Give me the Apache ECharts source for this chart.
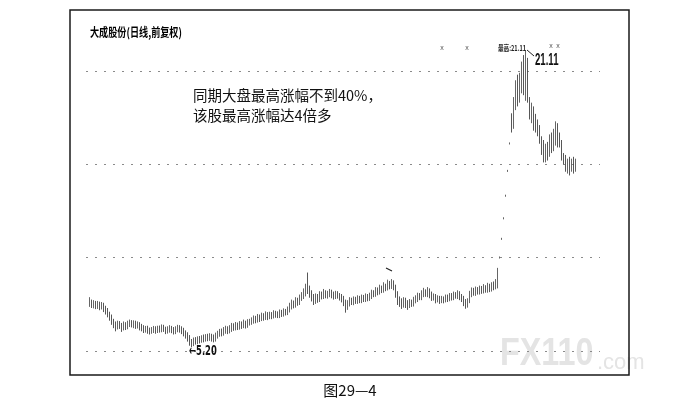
<!DOCTYPE html>
<html>
<head>
<meta charset="utf-8">
<script src="https://cdn.jsdelivr.net/npm/echarts@6.0.0/dist/echarts.min.js"></script>
<style>
html,body{margin:0;padding:0;background:#fff;}
#chart{width:681px;height:411px;}
</style>
</head>
<body>
<div id="chart"></div>
<script>
// ---- data (daily bars, 大成股份 前复权) ----
var opens = [
7.50,7.60,7.45,7.55,7.40,7.50,7.35,7.45,7.25,7.15,
6.95,6.80,6.55,6.45,6.30,6.45,6.35,6.25,6.40,6.30,
6.45,6.50,6.40,6.48,6.35,6.40,6.30,6.22,6.15,6.20,
6.10,6.05,6.12,6.18,6.10,6.20,6.15,6.25,6.18,6.08,
6.15,6.20,6.12,6.05,6.15,6.22,6.18,6.10,5.95,5.85,
5.70,5.45,5.40,5.55,5.50,5.60,5.58,5.65,5.62,5.70,
5.68,5.75,5.70,5.62,5.80,5.90,6.00,5.95,6.10,6.15,
6.08,6.20,6.30,6.25,6.35,6.28,6.40,6.35,6.45,6.38,
6.50,6.55,6.62,6.70,6.65,6.78,6.72,6.85,6.80,6.90,
6.82,6.92,6.88,7.00,6.95,6.90,7.05,6.98,7.10,7.05,
7.20,7.40,7.55,7.45,7.70,7.60,7.85,7.95,8.10,8.40,
8.30,8.05,7.85,7.70,7.90,7.75,8.00,7.95,8.10,7.98,
8.05,8.12,8.00,7.92,8.05,7.95,7.88,7.78,7.60,7.40,
7.55,7.70,7.62,7.75,7.68,7.80,7.72,7.85,7.78,7.90,
7.82,7.95,8.10,8.05,8.25,8.15,8.35,8.28,8.45,8.38,
8.55,8.48,8.60,8.40,8.05,7.70,7.60,7.50,7.65,7.55,
7.45,7.60,7.55,7.72,7.80,7.95,7.88,8.05,8.15,8.05,
8.20,8.00,7.85,7.90,7.75,7.80,7.70,7.78,7.72,7.85,
7.80,7.92,7.88,8.00,7.95,8.05,7.90,7.80,7.60,7.50,
7.70,8.05,8.20,8.12,8.25,8.18,8.30,8.22,8.35,8.28,
8.40,8.32,8.50,8.45,8.55,9.98,10.98,12.08,13.29,14.62,
16.09,17.73,17.00,18.40,19.10,18.70,19.40,20.10,19.40,20.30,
18.50,17.80,18.00,17.40,17.00,16.80,16.30,15.90,15.50,15.80,
15.50,16.20,15.90,16.60,16.90,16.40,16.10,15.50,15.20,14.90,
15.10,14.80,15.00,14.80
];
var closes = [
7.60,7.45,7.55,7.40,7.50,7.35,7.45,7.25,7.15,7.00,
6.80,6.55,6.40,6.30,6.45,6.35,6.25,6.40,6.30,6.45,
6.50,6.42,6.48,6.35,6.40,6.30,6.22,6.15,6.20,6.10,
6.05,6.12,6.18,6.10,6.20,6.15,6.25,6.18,6.08,6.15,
6.20,6.12,6.05,6.15,6.22,6.18,6.10,5.95,5.85,5.70,
5.45,5.40,5.55,5.50,5.60,5.58,5.65,5.62,5.70,5.68,
5.75,5.70,5.62,5.80,5.90,6.00,5.95,6.10,6.15,6.08,
6.20,6.30,6.25,6.35,6.28,6.40,6.35,6.45,6.38,6.50,
6.55,6.62,6.70,6.65,6.78,6.72,6.85,6.80,6.90,6.82,
6.92,6.88,7.00,6.95,6.90,7.05,6.98,7.10,7.05,7.20,
7.40,7.55,7.45,7.70,7.60,7.85,7.95,8.10,8.35,8.30,
8.05,7.85,7.70,7.90,7.75,8.00,7.95,8.10,7.98,8.05,
8.12,8.00,7.92,8.05,7.95,7.88,7.78,7.60,7.40,7.55,
7.70,7.62,7.75,7.68,7.80,7.72,7.85,7.78,7.90,7.82,
7.95,8.10,8.05,8.25,8.15,8.35,8.28,8.45,8.38,8.55,
8.48,8.60,8.40,8.05,7.70,7.60,7.50,7.65,7.55,7.45,
7.60,7.55,7.72,7.80,7.95,7.88,8.05,8.15,8.05,8.20,
8.00,7.85,7.90,7.75,7.80,7.70,7.78,7.72,7.85,7.80,
7.92,7.88,8.00,7.95,8.05,7.90,7.80,7.60,7.50,7.65,
8.05,8.20,8.12,8.25,8.18,8.30,8.22,8.35,8.28,8.40,
8.32,8.50,8.45,8.60,9.10,10.01,11.01,12.11,13.32,14.65,
16.12,16.90,18.60,19.20,18.60,19.50,20.20,19.30,20.40,19.00,
17.80,18.10,17.20,17.00,16.80,16.40,15.90,15.50,15.80,15.40,
16.20,15.90,16.60,16.90,16.40,16.10,15.50,15.20,14.90,15.10,
14.80,15.00,14.80,14.90
];
var lows = [
7.36,7.30,7.28,7.24,7.25,7.18,7.22,7.08,6.95,6.80,
6.62,6.40,6.22,6.05,6.15,6.18,6.02,6.10,6.12,6.16,
6.28,6.26,6.22,6.18,6.20,6.10,6.05,5.96,5.98,5.92,
5.88,5.92,5.96,5.92,5.96,5.98,6.00,6.02,5.90,5.93,
5.98,5.95,5.88,5.90,6.00,5.98,5.90,5.78,5.66,5.50,
5.28,5.20,5.26,5.34,5.36,5.40,5.44,5.46,5.50,5.52,
5.54,5.50,5.46,5.50,5.66,5.76,5.78,5.82,5.92,5.90,
5.94,6.02,6.08,6.10,6.12,6.14,6.18,6.22,6.20,6.24,
6.36,6.40,6.46,6.48,6.52,6.55,6.60,6.62,6.66,6.65,
6.70,6.70,6.74,6.78,6.76,6.76,6.82,6.84,6.90,6.92,
7.06,7.22,7.28,7.32,7.42,7.46,7.68,7.78,7.92,8.05,
7.85,7.65,7.46,7.52,7.58,7.62,7.76,7.78,7.82,7.80,
7.88,7.82,7.75,7.78,7.80,7.70,7.60,7.40,7.05,7.20,
7.38,7.46,7.45,7.52,7.52,7.56,7.56,7.62,7.62,7.66,
7.68,7.78,7.88,7.90,7.98,8.02,8.10,8.12,8.20,8.24,
8.30,8.32,8.25,7.85,7.46,7.36,7.25,7.32,7.30,7.20,
7.30,7.36,7.38,7.55,7.62,7.72,7.72,7.88,7.90,7.88,
7.82,7.68,7.70,7.55,7.60,7.52,7.56,7.55,7.60,7.62,
7.66,7.70,7.72,7.80,7.78,7.72,7.62,7.40,7.26,7.32,
7.56,7.88,7.96,7.95,8.02,8.02,8.06,8.08,8.12,8.12,
8.15,8.18,8.25,8.30,8.35,9.95,10.95,12.05,13.26,14.59,
16.06,16.70,16.90,17.90,18.10,18.30,18.80,18.70,18.40,18.30,
17.40,17.20,16.80,16.70,16.50,16.10,15.50,15.10,15.10,15.20,
15.40,15.60,15.70,16.00,15.90,15.90,15.20,15.00,14.60,14.50,
14.40,14.60,14.50,14.60
];
var highs = [
7.88,7.75,7.72,7.68,7.68,7.64,7.62,7.58,7.42,7.30,
7.10,6.95,6.72,6.58,6.62,6.60,6.50,6.58,6.54,6.62,
6.68,6.65,6.64,6.62,6.58,6.54,6.45,6.38,6.34,6.35,
6.25,6.28,6.34,6.32,6.35,6.36,6.42,6.40,6.30,6.32,
6.38,6.34,6.28,6.32,6.40,6.38,6.32,6.24,6.10,6.00,
5.85,5.64,5.72,5.74,5.78,5.80,5.84,5.88,5.90,5.92,
5.95,5.92,5.88,5.98,6.08,6.18,6.20,6.28,6.35,6.32,
6.38,6.50,6.48,6.55,6.52,6.60,6.58,6.68,6.62,6.70,
6.72,6.80,6.90,6.88,6.98,6.95,7.05,7.02,7.12,7.08,
7.10,7.08,7.18,7.15,7.12,7.22,7.20,7.28,7.25,7.38,
7.58,7.75,7.70,7.88,7.85,8.02,8.15,8.35,8.60,9.20,
8.50,8.25,8.05,8.08,8.05,8.20,8.18,8.32,8.25,8.22,
8.32,8.28,8.18,8.22,8.20,8.10,8.05,7.95,7.75,7.72,
7.88,7.85,7.92,7.90,7.98,7.95,8.02,8.00,8.08,8.05,
8.12,8.28,8.25,8.42,8.40,8.55,8.50,8.68,8.60,8.82,
8.75,8.85,8.78,8.55,8.20,7.92,7.82,7.88,7.85,7.72,
7.78,7.75,7.90,7.98,8.12,8.10,8.25,8.38,8.30,8.42,
8.35,8.18,8.08,8.05,7.98,7.95,7.95,7.92,8.02,8.02,
8.10,8.10,8.18,8.15,8.25,8.20,8.05,7.95,7.78,7.82,
8.22,8.40,8.38,8.45,8.42,8.50,8.48,8.58,8.52,8.65,
8.60,8.68,8.72,8.85,9.45,10.06,11.06,12.16,13.37,14.70,
16.17,17.73,18.60,19.50,19.80,19.90,20.50,20.85,21.11,20.70,
18.60,18.30,18.10,17.70,17.40,17.10,16.50,16.30,16.10,16.20,
16.60,16.70,16.90,17.30,17.20,16.70,16.30,15.60,15.50,15.30,
15.40,15.30,15.40,15.30
];
var gridLevels = [5, 10, 15, 20];   // dotted reference lines (price)
var titleText = '大成股份(日线,前复权)';
var noteLines = ['同期大盘最高涨幅不到40%，', '该股最高涨幅达4倍多'];
var highLabel = '21.11';
var lowLabel = '←5.20';
var caption = '图29—4';

// ---- build ----
var days = opens.map(function (_, i) { return i + 1; });
var ohlc = opens.map(function (o, i) { return [o, closes[i], lows[i], highs[i]]; });

var chart = echarts.init(document.getElementById('chart'), null, {renderer: 'canvas'});
var cjk = '"Noto Sans CJK SC", sans-serif';
var lat = '"Liberation Sans", Arial, sans-serif';
var dv = '"DejaVu Sans", sans-serif';

chart.setOption({
  animation: false,
  backgroundColor: '#ffffff',
  grid: [
    {left: 86, width: 514, top: 71, height: 280},
    {left: 89, width: 488, top: 33.6, height: 336}
  ],
  xAxis: [
    {gridIndex: 0, type: 'value', min: 0, max: 1, show: false},
    {gridIndex: 1, type: 'category', data: days, boundaryGap: true, show: false}
  ],
  yAxis: [
    {gridIndex: 0, type: 'value', min: gridLevels[0], max: gridLevels[gridLevels.length - 1], interval: 5,
     axisLine: {show: false}, axisTick: {show: false}, axisLabel: {show: false},
     splitLine: {show: true, lineStyle: {color: '#8a8a8a', width: 1, type: [2, 7]}}},
    {gridIndex: 1, type: 'value', min: 4, max: 22, show: false, splitLine: {show: false}}
  ],
  series: [{
    type: 'candlestick',
    xAxisIndex: 1, yAxisIndex: 1,
    data: ohlc,
    barWidth: 1,
    itemStyle: {color: '#ffffff', color0: '#555555', borderColor: '#555555', borderColor0: '#444444', borderWidth: 0.9}
  }],
  graphic: [
    // watermark
    {type: 'text', x: 500, y: 374, scaleX: 0.85, z: 0,
     style: {text: 'FX110', font: 'bold 38px ' + lat, fill: '#e4e4e4', textAlign: 'left', textVerticalAlign: 'bottom'}},
    {type: 'text', x: 597, y: 374, z: 0,
     style: {text: '.com', font: '22px ' + lat, fill: '#e4e4e4', textAlign: 'left', textVerticalAlign: 'bottom'}},
    // frame
    {type: 'rect', z: 10, shape: {x: 70, y: 10, width: 559, height: 365},
     style: {fill: 'none', stroke: '#1a1a1a', lineWidth: 1.5}},
    // title
    {type: 'text', x: 90, y: 32, scaleX: 0.76, z: 10,
     style: {text: titleText, font: 'bold 12px ' + cjk, fill: '#000', textAlign: 'left', textVerticalAlign: 'middle'}},
    // note
    {type: 'text', x: 193, y: 95, z: 10,
     style: {text: noteLines[0], font: '14.5px ' + cjk, fill: '#111', textAlign: 'left', textVerticalAlign: 'middle'}},
    {type: 'text', x: 193, y: 115, z: 10,
     style: {text: noteLines[1], font: '14.5px ' + cjk, fill: '#111', textAlign: 'left', textVerticalAlign: 'middle'}},
    // peak marker
    {type: 'text', x: 498, y: 48, scaleX: 0.7, z: 10,
     style: {text: '最高:21.11', font: 'bold 8px ' + cjk, fill: '#222', textAlign: 'left', textVerticalAlign: 'middle'}},
    {type: 'line', z: 10, shape: {x1: 527, y1: 50, x2: 534, y2: 56}, style: {stroke: '#222', lineWidth: 1}},
    {type: 'text', x: 535, y: 61, scaleX: 0.6, z: 10,
     style: {text: highLabel, font: 'bold 16px ' + lat, fill: '#111', textAlign: 'left', textVerticalAlign: 'middle'}},
    // small x marks
    {type: 'text', x: 442, y: 48, z: 10, style: {text: 'x', font: '7px ' + lat, fill: '#555', textAlign: 'center', textVerticalAlign: 'middle'}},
    {type: 'text', x: 467, y: 48, z: 10, style: {text: 'x', font: '7px ' + lat, fill: '#555', textAlign: 'center', textVerticalAlign: 'middle'}},
    {type: 'text', x: 551, y: 46, z: 10, style: {text: 'x', font: '7px ' + lat, fill: '#555', textAlign: 'center', textVerticalAlign: 'middle'}},
    {type: 'text', x: 558, y: 46, z: 10, style: {text: 'x', font: '7px ' + lat, fill: '#555', textAlign: 'center', textVerticalAlign: 'middle'}},
    {type: 'line', z: 10, shape: {x1: 386, y1: 268, x2: 392, y2: 271}, style: {stroke: '#222', lineWidth: 1.2}},
    // low label
    {type: 'text', x: 189, y: 351, scaleX: 0.6, z: 10,
     style: {text: lowLabel, font: 'bold 14px ' + dv, fill: '#111', textAlign: 'left', textVerticalAlign: 'middle'}},
    // caption
    {type: 'text', x: 350, y: 390, z: 10,
     style: {text: caption, font: '15px ' + cjk, fill: '#111', textAlign: 'center', textVerticalAlign: 'middle'}}
  ]
});
</script>
</body>
</html>
